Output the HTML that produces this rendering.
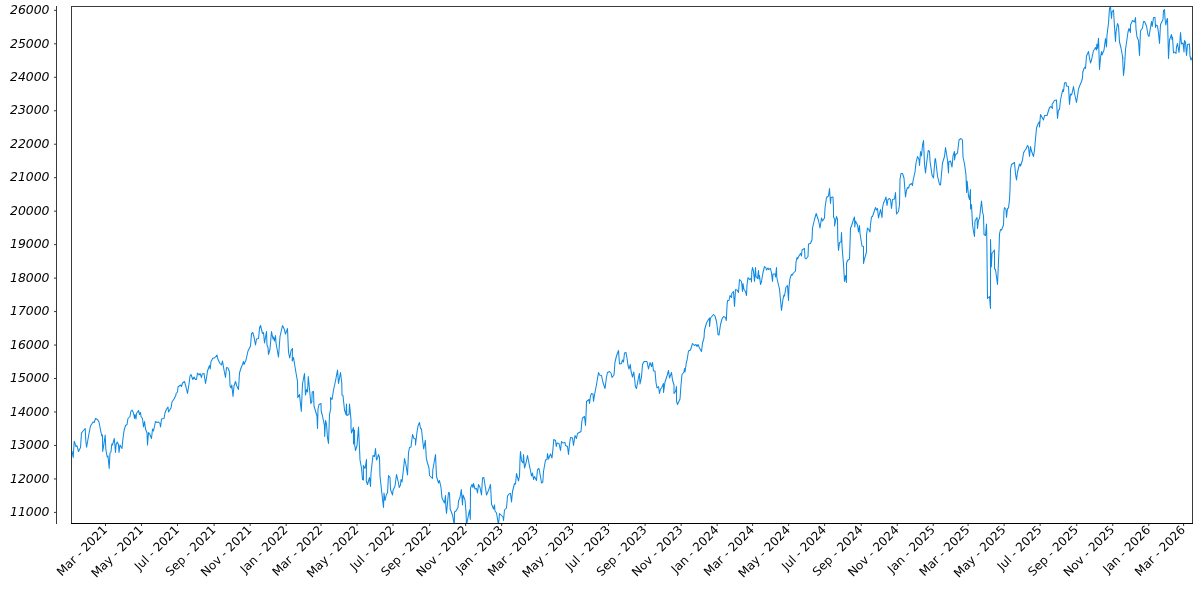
<!DOCTYPE html>
<html lang="en"><head><meta charset="utf-8"><title>Chart</title>
<style>html,body{margin:0;padding:0;background:#fff}body{width:1200px;height:600px;overflow:hidden}svg{display:block}.yl{font-family:"DejaVu Sans","Liberation Sans",sans-serif;font-style:italic;font-size:12.4px;fill:#000}.xl{font-family:"DejaVu Sans","Liberation Sans",sans-serif;font-size:12px;fill:#000}</style></head><body>
<svg width="1200" height="600" viewBox="0 0 1200 600">
<rect x="0" y="0" width="1200" height="600" fill="#fff"/>
<line x1="56.5" y1="6" x2="56.5" y2="524" stroke="#3a3a3a" stroke-width="1"/>
<line x1="54" y1="512.40" x2="56.5" y2="512.40" stroke="#3a3a3a" stroke-width="1"/>
<text class="yl" x="49.5" y="516.10" text-anchor="end">11000</text>
<line x1="54" y1="478.93" x2="56.5" y2="478.93" stroke="#3a3a3a" stroke-width="1"/>
<text class="yl" x="49.5" y="482.63" text-anchor="end">12000</text>
<line x1="54" y1="445.46" x2="56.5" y2="445.46" stroke="#3a3a3a" stroke-width="1"/>
<text class="yl" x="49.5" y="449.16" text-anchor="end">13000</text>
<line x1="54" y1="411.99" x2="56.5" y2="411.99" stroke="#3a3a3a" stroke-width="1"/>
<text class="yl" x="49.5" y="415.69" text-anchor="end">14000</text>
<line x1="54" y1="378.52" x2="56.5" y2="378.52" stroke="#3a3a3a" stroke-width="1"/>
<text class="yl" x="49.5" y="382.22" text-anchor="end">15000</text>
<line x1="54" y1="345.05" x2="56.5" y2="345.05" stroke="#3a3a3a" stroke-width="1"/>
<text class="yl" x="49.5" y="348.75" text-anchor="end">16000</text>
<line x1="54" y1="311.58" x2="56.5" y2="311.58" stroke="#3a3a3a" stroke-width="1"/>
<text class="yl" x="49.5" y="315.28" text-anchor="end">17000</text>
<line x1="54" y1="278.11" x2="56.5" y2="278.11" stroke="#3a3a3a" stroke-width="1"/>
<text class="yl" x="49.5" y="281.81" text-anchor="end">18000</text>
<line x1="54" y1="244.64" x2="56.5" y2="244.64" stroke="#3a3a3a" stroke-width="1"/>
<text class="yl" x="49.5" y="248.34" text-anchor="end">19000</text>
<line x1="54" y1="211.17" x2="56.5" y2="211.17" stroke="#3a3a3a" stroke-width="1"/>
<text class="yl" x="49.5" y="214.87" text-anchor="end">20000</text>
<line x1="54" y1="177.70" x2="56.5" y2="177.70" stroke="#3a3a3a" stroke-width="1"/>
<text class="yl" x="49.5" y="181.40" text-anchor="end">21000</text>
<line x1="54" y1="144.23" x2="56.5" y2="144.23" stroke="#3a3a3a" stroke-width="1"/>
<text class="yl" x="49.5" y="147.93" text-anchor="end">22000</text>
<line x1="54" y1="110.76" x2="56.5" y2="110.76" stroke="#3a3a3a" stroke-width="1"/>
<text class="yl" x="49.5" y="114.46" text-anchor="end">23000</text>
<line x1="54" y1="77.29" x2="56.5" y2="77.29" stroke="#3a3a3a" stroke-width="1"/>
<text class="yl" x="49.5" y="80.99" text-anchor="end">24000</text>
<line x1="54" y1="43.82" x2="56.5" y2="43.82" stroke="#3a3a3a" stroke-width="1"/>
<text class="yl" x="49.5" y="47.52" text-anchor="end">25000</text>
<line x1="54" y1="10.35" x2="56.5" y2="10.35" stroke="#3a3a3a" stroke-width="1"/>
<text class="yl" x="49.5" y="14.05" text-anchor="end">26000</text>
<line x1="105.50" y1="523.5" x2="105.50" y2="526" stroke="#3a3a3a" stroke-width="1"/>
<text class="xl" transform="translate(107.80,530.70) rotate(-45)" text-anchor="end">Mar - 2021</text>
<line x1="141.52" y1="523.5" x2="141.52" y2="526" stroke="#3a3a3a" stroke-width="1"/>
<text class="xl" transform="translate(143.82,530.70) rotate(-45)" text-anchor="end">May - 2021</text>
<line x1="177.53" y1="523.5" x2="177.53" y2="526" stroke="#3a3a3a" stroke-width="1"/>
<text class="xl" transform="translate(179.83,530.70) rotate(-45)" text-anchor="end">Jul - 2021</text>
<line x1="214.14" y1="523.5" x2="214.14" y2="526" stroke="#3a3a3a" stroke-width="1"/>
<text class="xl" transform="translate(216.44,530.70) rotate(-45)" text-anchor="end">Sep - 2021</text>
<line x1="250.15" y1="523.5" x2="250.15" y2="526" stroke="#3a3a3a" stroke-width="1"/>
<text class="xl" transform="translate(252.45,530.70) rotate(-45)" text-anchor="end">Nov - 2021</text>
<line x1="286.17" y1="523.5" x2="286.17" y2="526" stroke="#3a3a3a" stroke-width="1"/>
<text class="xl" transform="translate(288.47,530.70) rotate(-45)" text-anchor="end">Jan - 2022</text>
<line x1="321.00" y1="523.5" x2="321.00" y2="526" stroke="#3a3a3a" stroke-width="1"/>
<text class="xl" transform="translate(323.30,530.70) rotate(-45)" text-anchor="end">Mar - 2022</text>
<line x1="357.02" y1="523.5" x2="357.02" y2="526" stroke="#3a3a3a" stroke-width="1"/>
<text class="xl" transform="translate(359.32,530.70) rotate(-45)" text-anchor="end">May - 2022</text>
<line x1="393.03" y1="523.5" x2="393.03" y2="526" stroke="#3a3a3a" stroke-width="1"/>
<text class="xl" transform="translate(395.33,530.70) rotate(-45)" text-anchor="end">Jul - 2022</text>
<line x1="429.64" y1="523.5" x2="429.64" y2="526" stroke="#3a3a3a" stroke-width="1"/>
<text class="xl" transform="translate(431.94,530.70) rotate(-45)" text-anchor="end">Sep - 2022</text>
<line x1="465.65" y1="523.5" x2="465.65" y2="526" stroke="#3a3a3a" stroke-width="1"/>
<text class="xl" transform="translate(467.95,530.70) rotate(-45)" text-anchor="end">Nov - 2022</text>
<line x1="501.67" y1="523.5" x2="501.67" y2="526" stroke="#3a3a3a" stroke-width="1"/>
<text class="xl" transform="translate(503.97,530.70) rotate(-45)" text-anchor="end">Jan - 2023</text>
<line x1="536.50" y1="523.5" x2="536.50" y2="526" stroke="#3a3a3a" stroke-width="1"/>
<text class="xl" transform="translate(538.80,530.70) rotate(-45)" text-anchor="end">Mar - 2023</text>
<line x1="572.52" y1="523.5" x2="572.52" y2="526" stroke="#3a3a3a" stroke-width="1"/>
<text class="xl" transform="translate(574.82,530.70) rotate(-45)" text-anchor="end">May - 2023</text>
<line x1="608.53" y1="523.5" x2="608.53" y2="526" stroke="#3a3a3a" stroke-width="1"/>
<text class="xl" transform="translate(610.83,530.70) rotate(-45)" text-anchor="end">Jul - 2023</text>
<line x1="645.14" y1="523.5" x2="645.14" y2="526" stroke="#3a3a3a" stroke-width="1"/>
<text class="xl" transform="translate(647.44,530.70) rotate(-45)" text-anchor="end">Sep - 2023</text>
<line x1="681.16" y1="523.5" x2="681.16" y2="526" stroke="#3a3a3a" stroke-width="1"/>
<text class="xl" transform="translate(683.46,530.70) rotate(-45)" text-anchor="end">Nov - 2023</text>
<line x1="717.17" y1="523.5" x2="717.17" y2="526" stroke="#3a3a3a" stroke-width="1"/>
<text class="xl" transform="translate(719.47,530.70) rotate(-45)" text-anchor="end">Jan - 2024</text>
<line x1="752.60" y1="523.5" x2="752.60" y2="526" stroke="#3a3a3a" stroke-width="1"/>
<text class="xl" transform="translate(754.90,530.70) rotate(-45)" text-anchor="end">Mar - 2024</text>
<line x1="788.61" y1="523.5" x2="788.61" y2="526" stroke="#3a3a3a" stroke-width="1"/>
<text class="xl" transform="translate(790.91,530.70) rotate(-45)" text-anchor="end">May - 2024</text>
<line x1="824.63" y1="523.5" x2="824.63" y2="526" stroke="#3a3a3a" stroke-width="1"/>
<text class="xl" transform="translate(826.93,530.70) rotate(-45)" text-anchor="end">Jul - 2024</text>
<line x1="861.23" y1="523.5" x2="861.23" y2="526" stroke="#3a3a3a" stroke-width="1"/>
<text class="xl" transform="translate(863.53,530.70) rotate(-45)" text-anchor="end">Sep - 2024</text>
<line x1="897.25" y1="523.5" x2="897.25" y2="526" stroke="#3a3a3a" stroke-width="1"/>
<text class="xl" transform="translate(899.55,530.70) rotate(-45)" text-anchor="end">Nov - 2024</text>
<line x1="933.26" y1="523.5" x2="933.26" y2="526" stroke="#3a3a3a" stroke-width="1"/>
<text class="xl" transform="translate(935.56,530.70) rotate(-45)" text-anchor="end">Jan - 2025</text>
<line x1="968.10" y1="523.5" x2="968.10" y2="526" stroke="#3a3a3a" stroke-width="1"/>
<text class="xl" transform="translate(970.40,530.70) rotate(-45)" text-anchor="end">Mar - 2025</text>
<line x1="1004.11" y1="523.5" x2="1004.11" y2="526" stroke="#3a3a3a" stroke-width="1"/>
<text class="xl" transform="translate(1006.41,530.70) rotate(-45)" text-anchor="end">May - 2025</text>
<line x1="1040.13" y1="523.5" x2="1040.13" y2="526" stroke="#3a3a3a" stroke-width="1"/>
<text class="xl" transform="translate(1042.43,530.70) rotate(-45)" text-anchor="end">Jul - 2025</text>
<line x1="1076.73" y1="523.5" x2="1076.73" y2="526" stroke="#3a3a3a" stroke-width="1"/>
<text class="xl" transform="translate(1079.03,530.70) rotate(-45)" text-anchor="end">Sep - 2025</text>
<line x1="1112.75" y1="523.5" x2="1112.75" y2="526" stroke="#3a3a3a" stroke-width="1"/>
<text class="xl" transform="translate(1115.05,530.70) rotate(-45)" text-anchor="end">Nov - 2025</text>
<line x1="1148.77" y1="523.5" x2="1148.77" y2="526" stroke="#3a3a3a" stroke-width="1"/>
<text class="xl" transform="translate(1151.07,530.70) rotate(-45)" text-anchor="end">Jan - 2026</text>
<line x1="1183.60" y1="523.5" x2="1183.60" y2="526" stroke="#3a3a3a" stroke-width="1"/>
<text class="xl" transform="translate(1185.90,530.70) rotate(-45)" text-anchor="end">Mar - 2026</text>
<clipPath id="cp"><rect x="71.5" y="6.5" width="1121.0" height="517.0"/></clipPath>
<path clip-path="url(#cp)" d="M72.0,451.0 L73.2,457.5 L74.2,441.2 L76.0,446.5 L77.0,445.8 L78.5,451.5 L80.5,447.5 L81.5,433.0 L83.0,431.0 L85.2,428.5 L85.8,441.0 L86.6,447.2 L87.5,442.0 L89.0,433.5 L90.5,426.0 L93.0,422.0 L94.2,422.5 L95.5,418.5 L97.5,419.5 L99.0,422.0 L100.5,430.0 L101.8,436.0 L102.5,435.0 L102.7,451.5 L103.8,445.0 L105.2,435.0 L105.8,449.0 L107.2,457.0 L108.0,456.0 L109.2,468.5 L110.0,453.0 L111.0,452.0 L111.8,444.0 L112.5,445.0 L114.3,438.5 L115.5,452.5 L116.0,445.0 L117.2,442.0 L118.5,444.5 L119.0,452.5 L120.0,445.0 L122.0,448.5 L122.8,440.0 L124.0,431.0 L125.5,425.5 L127.0,424.5 L128.0,418.5 L130.0,416.5 L130.8,411.5 L132.0,410.0 L133.5,413.0 L134.5,418.5 L135.0,414.5 L136.0,419.0 L136.5,413.5 L138.5,410.5 L139.5,414.5 L140.5,412.5 L141.0,416.5 L142.5,418.5 L143.5,427.0 L144.5,421.5 L145.5,429.0 L147.0,433.0 L147.5,445.0 L148.5,432.5 L149.5,433.5 L151.5,438.5 L152.5,429.0 L153.5,431.0 L155.5,421.5 L157.0,422.5 L158.5,422.0 L160.0,423.5 L160.5,427.0 L161.5,419.0 L164.0,418.5 L165.0,413.0 L166.5,409.0 L168.0,407.0 L168.5,412.0 L171.0,408.0 L172.0,402.0 L174.0,399.0 L176.0,395.0 L176.0,393.5 L177.5,392.0 L178.0,387.0 L180.5,385.0 L181.5,386.5 L182.5,383.0 L184.5,381.5 L186.0,387.0 L187.5,393.5 L189.0,384.0 L190.0,376.0 L191.0,374.5 L192.8,379.5 L194.0,377.0 L195.5,379.5 L196.5,379.5 L197.5,373.0 L199.0,375.0 L200.0,373.5 L201.5,377.5 L202.2,374.0 L204.0,373.5 L205.5,383.5 L206.5,378.0 L207.5,371.0 L209.5,365.5 L210.2,369.0 L211.0,361.5 L213.0,358.0 L214.5,358.0 L217.0,355.0 L218.0,359.5 L220.0,363.5 L221.5,365.0 L222.5,361.0 L224.0,370.0 L225.5,377.5 L226.5,367.5 L228.0,368.0 L229.5,372.0 L230.0,386.0 L231.0,388.0 L231.8,385.0 L233.0,396.5 L234.0,386.0 L235.5,381.5 L236.8,386.0 L238.5,389.5 L239.5,373.0 L241.0,368.0 L242.5,364.5 L243.5,361.5 L244.0,364.5 L246.0,360.0 L248.0,351.0 L250.5,346.0 L251.5,333.5 L252.8,332.5 L254.0,337.0 L255.5,345.0 L256.5,339.0 L258.5,338.5 L259.0,334.0 L259.5,328.0 L260.5,325.5 L262.5,333.5 L263.5,332.5 L264.5,343.0 L266.5,331.5 L267.0,345.0 L268.0,347.5 L268.5,354.5 L270.0,349.0 L271.5,331.5 L273.0,339.0 L273.5,337.0 L274.5,341.0 L275.5,335.5 L276.0,343.0 L278.5,357.0 L280.0,336.5 L282.5,325.5 L284.0,328.5 L285.5,334.0 L287.5,328.5 L288.5,352.0 L289.7,358.0 L291.2,350.0 L292.5,348.5 L292.2,361.0 L293.5,357.5 L295.5,370.0 L297.5,381.5 L297.8,397.5 L299.5,394.5 L301.3,411.5 L302.5,384.0 L304.5,373.5 L305.5,395.0 L306.5,389.5 L307.5,392.0 L308.3,376.5 L309.5,389.0 L310.8,403.5 L311.8,402.0 L312.2,392.0 L313.5,391.5 L314.0,406.0 L317.0,416.0 L317.5,428.5 L318.0,409.0 L319.0,404.5 L321.0,403.5 L321.2,411.0 L322.5,416.0 L324.5,426.0 L324.7,436.5 L325.5,420.5 L326.5,424.0 L327.5,438.0 L328.5,443.5 L329.5,415.0 L330.8,408.0 L330.5,397.5 L332.0,399.5 L333.5,390.0 L335.5,381.0 L337.5,370.0 L338.5,383.5 L340.5,372.5 L341.8,383.0 L342.0,395.0 L343.0,395.5 L344.5,410.0 L346.0,414.5 L346.5,404.0 L346.8,415.5 L349.0,414.5 L349.5,404.0 L351.0,420.0 L351.0,428.0 L351.5,433.0 L353.5,427.5 L353.5,444.0 L354.5,430.0 L354.7,445.0 L355.5,450.5 L357.0,445.5 L358.5,427.0 L359.5,448.0 L360.0,460.0 L361.5,468.0 L362.5,479.5 L363.5,480.0 L363.3,465.5 L365.0,468.5 L366.5,459.5 L366.3,481.0 L367.5,484.5 L369.5,477.5 L370.5,486.5 L371.0,473.0 L373.0,455.5 L374.5,456.5 L375.5,448.5 L376.5,460.0 L377.5,458.0 L378.5,454.5 L379.5,457.5 L380.0,476.0 L381.5,490.0 L382.5,499.0 L383.5,507.5 L384.0,493.0 L385.0,500.5 L386.5,494.0 L387.5,493.0 L388.5,475.5 L390.0,477.5 L390.5,489.5 L392.5,495.0 L393.0,490.5 L395.0,486.0 L396.5,474.5 L398.5,483.0 L399.2,487.5 L400.5,485.0 L401.0,479.5 L402.0,482.0 L404.0,464.5 L404.5,458.5 L406.0,465.0 L407.5,475.0 L408.5,453.0 L409.5,447.5 L411.0,447.0 L412.5,434.5 L414.0,438.5 L415.5,439.0 L415.5,445.0 L417.0,432.0 L418.0,426.0 L419.5,422.5 L420.5,428.5 L421.5,429.0 L422.5,439.0 L423.7,449.0 L425.3,440.3 L426.3,458.3 L427.5,463.0 L429.0,468.0 L429.5,475.5 L432.5,478.5 L432.8,470.0 L434.0,463.0 L435.5,454.5 L436.5,476.5 L438.5,483.0 L439.5,480.5 L441.0,487.5 L442.0,498.0 L444.5,503.0 L445.5,495.5 L445.8,506.0 L446.5,513.5 L448.5,492.5 L449.5,493.0 L450.2,509.0 L452.5,515.0 L454.3,525.0 L454.5,512.0 L456.0,511.0 L458.0,507.5 L458.5,501.0 L460.0,497.5 L461.3,489.5 L462.5,505.0 L463.0,495.0 L465.0,500.0 L466.0,512.0 L466.5,525.0 L469.5,510.0 L470.3,519.5 L470.5,488.0 L472.0,484.5 L473.0,487.5 L473.5,483.5 L475.0,489.0 L476.5,488.5 L477.5,493.0 L478.5,484.5 L480.0,487.5 L481.5,495.0 L482.5,478.0 L483.8,477.5 L485.5,488.0 L486.5,495.0 L488.5,490.5 L490.5,484.5 L491.5,504.0 L493.5,509.0 L494.5,505.0 L495.0,511.0 L496.5,513.0 L498.5,525.0 L499.5,513.5 L503.0,517.0 L503.5,520.5 L504.5,510.0 L506.5,508.0 L507.5,496.0 L509.0,494.0 L510.5,493.5 L511.5,502.0 L512.5,491.5 L514.5,483.5 L515.5,484.0 L516.5,473.5 L518.5,481.0 L519.5,476.0 L520.0,459.5 L520.5,451.5 L521.5,461.0 L523.0,463.0 L523.5,454.5 L524.5,468.0 L526.0,463.0 L527.5,455.5 L529.0,463.5 L531.5,476.0 L532.5,473.0 L533.5,479.5 L534.5,476.5 L536.5,480.5 L537.5,469.5 L539.0,468.5 L540.2,475.0 L541.5,483.0 L542.8,482.0 L543.5,471.5 L545.5,460.0 L547.0,459.5 L547.5,453.5 L548.5,459.0 L550.5,454.0 L552.0,458.0 L553.0,448.5 L553.8,439.5 L555.5,440.5 L556.3,446.5 L557.0,443.0 L559.0,443.5 L560.5,450.5 L561.5,441.5 L563.0,443.0 L565.0,442.5 L565.5,445.5 L567.5,446.5 L568.5,454.5 L569.5,444.5 L570.5,437.5 L572.5,438.0 L573.5,445.5 L575.0,435.5 L576.5,438.5 L577.5,433.5 L581.0,431.5 L581.8,422.0 L582.5,418.0 L584.5,416.5 L585.5,425.5 L586.2,411.0 L586.5,401.5 L589.0,399.5 L589.5,403.5 L590.5,396.0 L591.5,393.5 L593.0,394.0 L593.5,401.5 L594.5,395.0 L596.5,384.5 L598.5,372.5 L599.5,375.0 L601.5,375.5 L603.0,382.5 L605.0,388.5 L606.5,377.0 L607.5,372.5 L609.5,371.5 L611.0,373.0 L612.0,377.5 L614.0,375.0 L615.0,362.0 L616.5,356.0 L618.5,350.5 L619.5,364.0 L621.5,363.5 L622.5,360.0 L623.5,362.0 L624.5,353.0 L626.0,352.5 L627.0,358.0 L628.0,365.5 L629.0,369.0 L630.3,364.5 L631.0,371.0 L632.5,377.0 L633.8,372.0 L635.5,387.0 L636.5,388.5 L638.5,377.5 L639.5,373.5 L640.0,384.0 L641.5,377.0 L642.5,364.5 L644.0,361.5 L647.0,361.5 L648.5,369.0 L650.0,362.5 L651.5,366.5 L652.5,362.5 L653.5,371.0 L655.0,371.0 L656.0,382.5 L657.0,388.0 L658.5,386.5 L659.5,393.5 L660.5,389.0 L661.5,388.0 L663.5,383.5 L663.5,392.5 L665.0,382.0 L667.0,376.0 L668.5,370.5 L669.5,378.0 L671.5,372.5 L672.5,380.0 L674.0,385.0 L674.0,393.5 L675.5,391.5 L676.5,386.5 L676.5,401.0 L677.5,404.5 L680.0,399.0 L681.0,385.0 L682.0,374.5 L684.0,372.0 L684.5,368.5 L685.0,372.0 L686.5,361.5 L687.0,360.5 L688.5,351.0 L690.5,350.0 L692.5,343.5 L694.5,345.5 L696.0,344.5 L697.0,346.5 L698.0,344.5 L699.5,348.0 L701.5,351.5 L702.5,343.0 L704.0,338.0 L704.5,330.0 L706.5,323.0 L708.5,319.5 L709.5,318.0 L709.5,326.5 L710.5,318.0 L713.5,314.5 L715.0,316.0 L716.5,321.5 L717.5,329.0 L718.0,334.5 L719.0,335.0 L720.5,324.5 L722.0,319.0 L723.5,316.5 L725.5,317.5 L726.3,320.5 L727.0,306.0 L727.5,300.5 L729.0,300.5 L730.0,295.5 L731.5,297.5 L731.8,293.5 L733.5,291.5 L734.5,306.5 L735.5,289.5 L737.0,290.0 L738.5,292.5 L739.5,279.5 L741.5,281.5 L742.5,291.5 L743.0,283.5 L744.0,289.5 L745.5,291.5 L746.5,295.5 L747.0,285.0 L748.0,277.5 L749.5,279.5 L751.0,278.5 L751.5,282.0 L751.8,271.5 L752.5,267.5 L753.5,271.5 L754.5,281.5 L755.5,267.5 L756.0,276.5 L757.5,278.5 L758.5,270.5 L759.0,279.0 L759.5,275.5 L760.5,284.5 L761.5,281.5 L763.0,272.5 L764.5,266.5 L766.0,268.0 L766.5,270.0 L768.0,268.0 L768.5,269.5 L770.5,268.5 L771.5,273.0 L772.5,281.5 L773.0,274.0 L775.0,274.0 L775.5,277.0 L776.5,267.5 L776.8,277.5 L779.0,287.0 L779.5,289.0 L780.5,300.0 L781.5,310.5 L783.0,299.0 L784.0,295.0 L784.5,296.0 L786.0,287.0 L787.5,285.5 L788.5,300.5 L789.0,287.0 L790.0,278.5 L791.5,274.5 L792.5,275.0 L793.0,273.5 L795.5,271.0 L796.0,262.0 L797.0,257.5 L797.5,259.0 L799.5,255.0 L800.5,253.5 L801.5,256.0 L802.0,250.0 L804.5,248.5 L805.0,258.0 L806.0,259.0 L808.0,256.5 L808.5,244.0 L810.5,243.5 L812.0,239.5 L812.5,228.0 L814.5,219.5 L816.2,213.5 L818.5,220.5 L820.0,228.0 L821.5,218.0 L822.5,221.0 L824.5,218.0 L825.0,208.0 L826.5,197.5 L828.5,196.0 L829.5,188.5 L830.5,203.5 L831.0,197.5 L833.0,197.0 L833.5,209.0 L833.5,217.0 L834.8,219.5 L834.5,226.0 L836.5,216.5 L837.5,219.5 L837.8,239.0 L838.5,250.5 L839.5,242.5 L841.0,242.0 L841.5,232.5 L842.2,249.0 L843.5,264.0 L844.5,281.5 L845.5,275.5 L846.5,282.5 L846.5,263.5 L847.5,260.5 L849.5,259.0 L850.0,244.0 L850.5,228.0 L851.5,226.0 L853.5,219.5 L854.5,217.0 L854.8,227.0 L855.5,221.0 L857.5,225.0 L858.5,232.0 L859.5,225.5 L860.0,233.5 L862.0,246.0 L863.5,246.5 L863.5,263.5 L864.5,259.0 L866.5,252.0 L866.5,235.0 L867.5,228.0 L868.5,229.0 L870.0,232.0 L870.5,224.5 L871.5,217.0 L872.5,216.5 L875.5,207.5 L876.5,210.0 L877.5,208.5 L878.5,218.0 L880.5,209.5 L882.0,217.5 L882.5,208.0 L883.5,203.0 L884.5,201.0 L886.0,197.0 L887.0,205.5 L888.0,199.5 L889.5,198.5 L890.5,199.5 L891.5,208.5 L892.5,199.5 L894.5,199.0 L895.5,192.5 L896.5,214.0 L898.5,211.5 L899.5,205.0 L900.0,179.5 L901.0,173.5 L902.5,173.5 L904.0,178.0 L905.5,197.0 L906.5,190.5 L907.5,187.5 L908.5,188.0 L909.5,185.0 L911.5,183.5 L912.5,185.5 L913.0,181.0 L915.0,172.0 L916.0,163.0 L917.5,156.5 L919.0,159.5 L919.5,165.5 L920.5,151.5 L921.5,156.0 L922.5,145.0 L923.5,140.5 L924.5,164.0 L925.5,173.0 L926.5,164.0 L928.2,150.5 L929.5,151.5 L930.0,161.0 L932.0,175.0 L933.5,178.0 L935.0,159.0 L935.5,158.5 L937.5,176.0 L939.5,184.5 L940.5,185.0 L942.5,163.0 L944.5,156.5 L945.5,147.5 L947.5,160.0 L948.5,173.0 L948.8,162.0 L950.5,161.0 L951.5,165.0 L952.0,167.0 L953.0,156.0 L954.5,151.5 L954.5,160.0 L955.5,154.5 L957.5,153.0 L959.0,140.0 L961.0,138.5 L962.5,140.0 L963.0,157.0 L964.5,164.0 L966.0,175.0 L966.6,192.5 L967.2,181.2 L968.5,196.0 L969.5,199.5 L970.5,189.5 L970.5,209.0 L971.5,204.5 L972.5,224.5 L973.5,231.5 L974.5,236.5 L975.0,221.0 L977.0,217.5 L977.5,228.5 L978.5,220.0 L979.5,218.5 L981.5,201.0 L982.5,211.5 L983.5,216.0 L984.0,234.5 L985.5,235.5 L986.5,224.0 L986.8,237.0 L987.5,298.5 L989.5,296.5 L990.5,308.5 L990.5,239.5 L991.3,267.0 L992.0,253.5 L994.5,250.0 L994.5,269.0 L995.5,269.5 L997.5,284.5 L999.0,250.0 L999.5,234.0 L1000.5,229.5 L1001.5,230.0 L1003.5,225.0 L1004.0,210.5 L1004.5,207.5 L1006.0,209.5 L1006.5,217.5 L1007.5,208.5 L1008.5,208.0 L1009.5,199.5 L1010.0,190.0 L1010.5,169.5 L1011.5,164.5 L1014.5,162.5 L1015.5,174.0 L1016.5,180.0 L1017.5,172.0 L1019.5,164.0 L1020.5,166.0 L1022.5,160.0 L1023.5,153.0 L1024.5,151.0 L1026.0,149.0 L1027.5,145.5 L1028.5,147.0 L1029.5,156.5 L1030.5,146.5 L1031.5,151.0 L1033.5,156.5 L1034.5,150.0 L1036.5,128.0 L1038.0,124.0 L1039.5,121.5 L1039.5,127.0 L1040.5,114.5 L1043.5,120.0 L1044.5,115.5 L1047.0,115.5 L1049.5,107.5 L1051.0,106.5 L1052.5,108.5 L1052.0,104.5 L1054.5,100.5 L1056.5,100.0 L1057.5,118.5 L1058.5,110.0 L1059.5,109.5 L1060.5,100.0 L1062.0,93.0 L1063.0,89.5 L1063.5,91.5 L1064.5,83.0 L1066.0,82.5 L1066.5,86.0 L1068.5,86.5 L1069.5,104.5 L1070.5,94.0 L1071.5,95.0 L1072.0,93.5 L1073.5,86.5 L1074.5,93.5 L1076.5,102.5 L1077.5,96.0 L1078.5,89.0 L1080.0,85.0 L1081.5,81.5 L1082.5,78.0 L1082.8,72.0 L1084.0,68.5 L1085.0,67.0 L1085.5,68.5 L1086.5,56.0 L1088.5,51.5 L1089.5,58.0 L1090.5,63.0 L1091.5,60.0 L1093.5,50.5 L1094.5,49.5 L1095.5,47.5 L1096.5,50.0 L1096.8,44.2 L1097.5,48.5 L1098.5,38.2 L1099.5,69.5 L1100.5,57.5 L1101.5,51.5 L1102.0,55.0 L1104.0,50.0 L1105.5,38.5 L1106.5,47.0 L1107.0,35.0 L1108.5,23.0 L1109.5,8.5 L1110.5,6.5 L1111.5,18.5 L1112.0,12.0 L1113.5,10.0 L1114.5,27.0 L1115.5,41.5 L1116.0,32.0 L1117.5,23.5 L1118.5,26.0 L1119.5,42.0 L1121.0,48.0 L1123.0,59.0 L1122.5,55.5 L1123.5,75.5 L1124.5,66.5 L1125.5,49.5 L1128.0,32.0 L1129.0,28.5 L1130.5,32.5 L1130.5,25.0 L1132.5,20.5 L1134.5,22.0 L1135.5,17.5 L1136.0,29.0 L1137.0,37.0 L1138.5,40.5 L1139.5,55.5 L1140.5,31.0 L1142.5,28.0 L1143.5,21.5 L1144.5,21.5 L1146.5,26.0 L1148.0,35.0 L1149.0,36.5 L1151.5,21.5 L1152.2,26.5 L1153.5,17.5 L1155.0,17.5 L1155.5,27.5 L1156.0,25.0 L1157.5,26.0 L1158.5,33.0 L1159.5,43.5 L1160.5,24.5 L1163.0,19.5 L1163.5,10.5 L1164.5,9.5 L1165.0,18.5 L1165.8,25.0 L1167.0,19.0 L1167.5,18.5 L1168.5,58.5 L1169.5,40.0 L1171.5,34.5 L1172.0,39.5 L1172.5,37.0 L1173.5,53.0 L1174.5,52.0 L1176.0,53.5 L1176.5,47.0 L1177.5,43.5 L1179.0,52.5 L1179.5,47.5 L1180.5,32.5 L1181.5,44.0 L1183.0,43.0 L1184.0,52.0 L1184.5,40.5 L1185.5,42.0 L1186.5,55.5 L1187.5,44.5 L1189.5,44.0 L1190.0,56.0 L1191.0,60.0 L1192.5,57.0" fill="none" stroke="#0f8ae3" stroke-width="1.05" stroke-linejoin="round"/>
<rect x="71.5" y="6.5" width="1121.0" height="517.0" fill="none" stroke="#3a3a3a" stroke-width="1"/>
<line x1="71.0" y1="523.5" x2="1193.0" y2="523.5" stroke="#000" stroke-width="1"/>
</svg></body></html>
